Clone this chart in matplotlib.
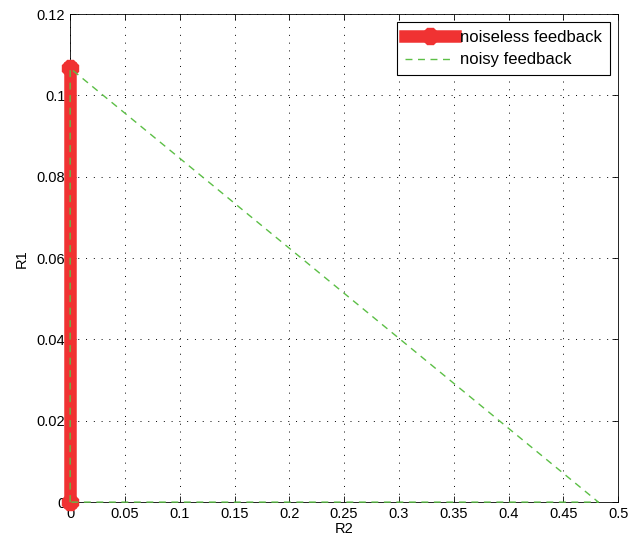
import matplotlib
matplotlib.use("Agg")
import matplotlib.pyplot as plt

plt.rcParams['font.family'] = ['Liberation Sans', 'DejaVu Sans']

# region corners
noiseless_r2 = [0.0, 0.0]
noiseless_r1 = [0.0, 0.1067]
noisy_r2 = [0.0, 0.0, 0.482, 0.0]
noisy_r1 = [0.0, 0.1067, 0.0, 0.0]

xticks = [0, 0.05, 0.1, 0.15, 0.2, 0.25, 0.3, 0.35, 0.4, 0.45, 0.5]
yticks = [0, 0.02, 0.04, 0.06, 0.08, 0.1, 0.12]

fig = plt.figure(figsize=(6.32, 5.44), dpi=100)
ax = fig.add_axes([0.111, 0.077, 0.867, 0.897])

ax.plot(noiseless_r2, noiseless_r1, color='#f03232', linewidth=9,
        marker='8', markersize=13, label='noiseless feedback', zorder=3,
        clip_on=False)
ax.plot(noisy_r2, noisy_r1, color='#5cbf46', linestyle=(0, (5, 4)),
        linewidth=1, label='noisy feedback', zorder=4, clip_on=False)

ax.set_xlim(0, 0.5)
ax.set_ylim(0, 0.12)
ax.set_xticks(xticks)
ax.set_xticklabels(['0', '0.05', '0.1', '0.15', '0.2', '0.25', '0.3',
                    '0.35', '0.4', '0.45', '0.5'])
ax.set_yticks(yticks)
ax.set_yticklabels(['0', '0.02', '0.04', '0.06', '0.08', '0.1', '0.12'])
ax.tick_params(direction='in', length=4, labelsize=10.5, top=True, right=True,
               width=0.6)
ax.grid(True, linestyle=(0, (1, 7)), color='black', linewidth=0.7)
for s in ax.spines.values():
    s.set_linewidth(0.6)
ax.set_xlabel('R2', fontsize=10.5, labelpad=1)
ax.set_ylabel('R1', fontsize=10.5, labelpad=6)

leg = ax.legend(loc='upper right', fontsize=12, fancybox=False,
                framealpha=1, edgecolor='black', borderaxespad=0.5,
                handlelength=3.0, handletextpad=0.35, labelspacing=0.45,
                borderpad=0.45)
leg.get_frame().set_linewidth(0.8)

fig.savefig('out.png', dpi=100)
